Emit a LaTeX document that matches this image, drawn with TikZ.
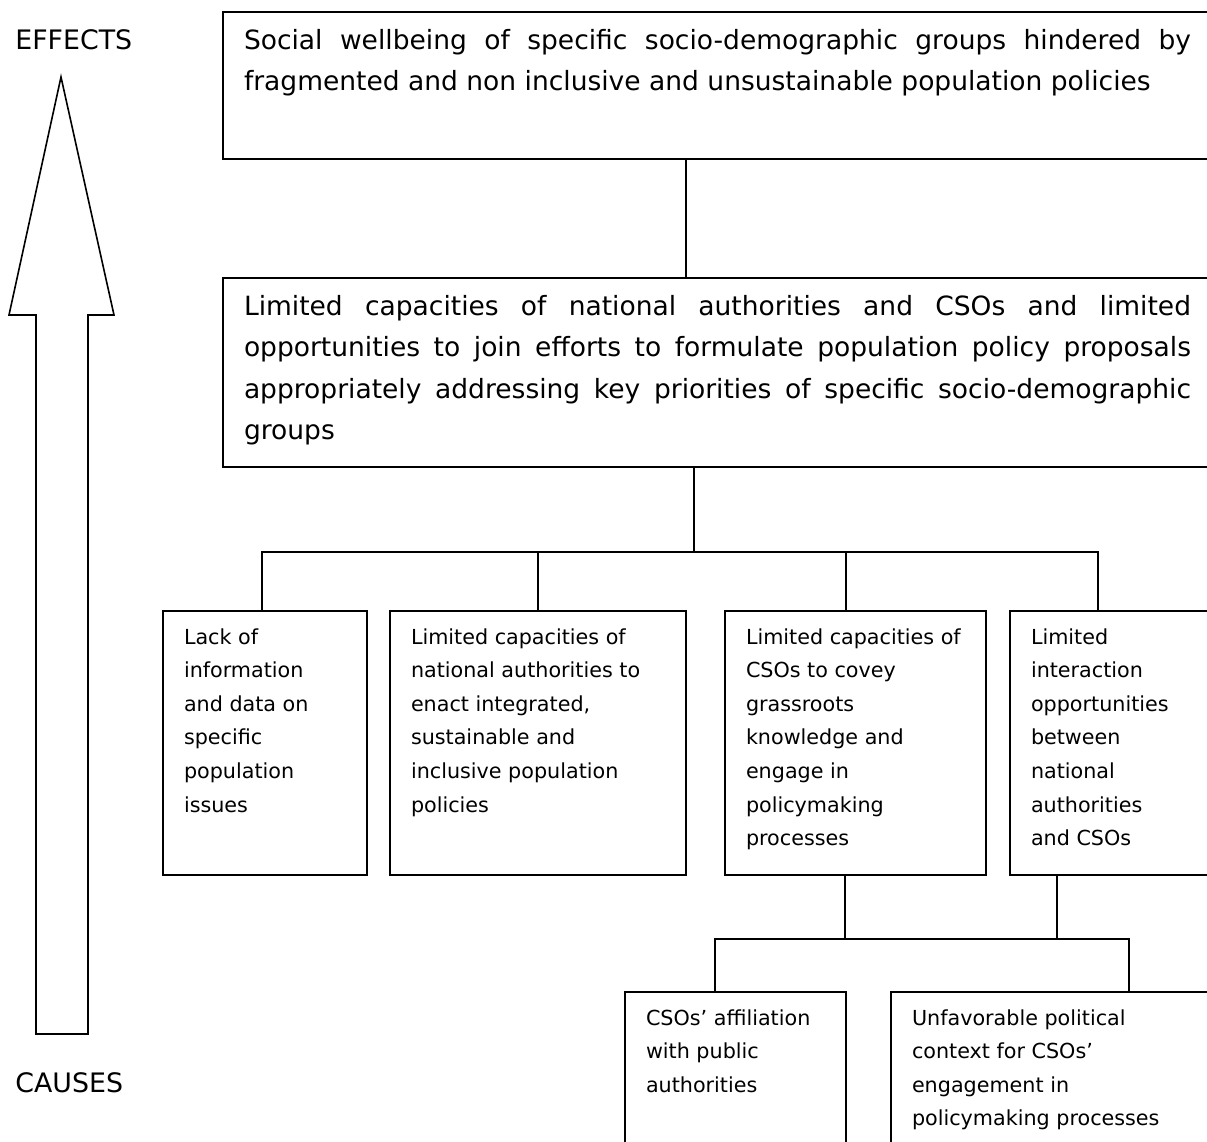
\documentclass[tikz,border=0pt]{standalone}
\usepackage{fontspec}
\setmainfont{DejaVu Sans}
\newcommand{\bigfont}{\fontsize{13.25}{20.8}\selectfont}
\newcommand{\smallfont}{\fontsize{10.35}{16.8}\selectfont}
\newcommand{\sidefont}{\fontsize{13.4}{16}\selectfont}
% justified text, top aligned: width, height, text
\newcommand{\effecttext}[3]{\parbox[t][#2][t]{#1}{\leftskip=10.5pt\rightskip=15pt\tolerance=10000\rule{0pt}{18.5pt}#3}}
% ragged text, top aligned: width, height, text
\newcommand{\causetext}[3]{\parbox[t][#2][t]{#1}{\raggedright\leftskip=10.5pt\rule{0pt}{16.5pt}#3}}
\tikzset{
    effectbox/.style={
        rectangle, draw=black, line width=1pt,
        anchor=north west, inner sep=0pt, font=\bigfont
    },
    causebox/.style={
        rectangle, draw=black, line width=1pt,
        anchor=north west, inner sep=0pt, font=\smallfont
    },
    sidelabel/.style={anchor=west, inner sep=0pt, font=\sidefont},
    link/.style={draw=black, line width=0.8pt, line join=miter},
    blockarrow/.style={draw=black, line width=0.8pt, line join=miter}
}
\begin{document}
\begin{tikzpicture}[x=0.5pt, y=-0.5pt]
\useasboundingbox (0,0) rectangle (1207,1142);
\clip (0,0) rectangle (1207,1142);

% Left: direction of the tree
\node[sidelabel] (effects) at (15,40) {EFFECTS};
\node[sidelabel] (causes) at (15,1083) {CAUSES};
\draw[blockarrow] (61,77) -- (114,315) -- (88,315) -- (88,1034) -- (36,1034) -- (36,315) -- (9,315) -- cycle;

% Effect and core problem
\node[effectbox] (top) at (222,11) {\effecttext{499pt}{73.5pt}{Social wellbeing of specific socio-demographic groups hindered by\linebreak fragmented and non inclusive and unsustainable population policies}};
\node[effectbox] (core) at (222,277) {\effecttext{499pt}{94.5pt}{Limited capacities of national authorities and CSOs and limited\linebreak opportunities to join efforts to formulate population policy proposals\linebreak appropriately addressing key priorities of specific socio-demographic\linebreak groups}};

% Causes
\node[causebox] (lack) at (162,610) {\causetext{102pt}{132pt}{Lack of\\ information\\ and data on\\ specific\\ population\\ issues}};
\node[causebox] (enact) at (389,610) {\causetext{148pt}{132pt}{Limited capacities of\\ national authorities to\\ enact integrated,\\ sustainable and\\ inclusive population\\ policies}};
\node[causebox] (covey) at (724,610) {\causetext{130.5pt}{132pt}{Limited capacities of\\ CSOs to covey\\ grassroots\\ knowledge and\\ engage in\\ policymaking\\ processes}};
\node[causebox] (interact) at (1009,610) {\causetext{106pt}{132pt}{Limited\\ interaction\\ opportunities\\ between\\ national\\ authorities\\ and CSOs}};

% Sub-causes
\node[causebox] (affil) at (624,991) {\causetext{110.5pt}{90pt}{CSOs’ affiliation\\ with public\\ authorities}};
\node[causebox] (polit) at (890,991) {\causetext{165pt}{90pt}{Unfavorable political\\ context for CSOs’\\ engagement in\\ policymaking processes}};

% Junctions
\coordinate (hubA) at (686,217);
\coordinate (hubB) at (694,552);
\coordinate (busL) at (262,552);
\coordinate (busR) at (1098,552);
\coordinate (dropC) at (846,552);
\coordinate (riseC) at (845,939);
\coordinate (riseD) at (1057,939);
\coordinate (barL) at (715,939);
\coordinate (barR) at (1129,939);

% Connections
\draw[link] (top.south -| hubA) -- (core.north -| hubA);
\draw[link] (core.south -| hubB) -- (hubB);
\draw[link] (busL |- lack.north) -- (busL) -- (busR) -- (busR |- interact.north);
\draw[link] (enact.north) -- (enact.north |- busL);
\draw[link] (dropC) -- (dropC |- covey.north);
\draw[link] (riseC |- covey.south) -- (riseC);
\draw[link] (riseD |- interact.south) -- (riseD);
\draw[link] (barL |- affil.north) -- (barL) -- (barR) -- (barR |- polit.north);

\end{tikzpicture}
\end{document}
